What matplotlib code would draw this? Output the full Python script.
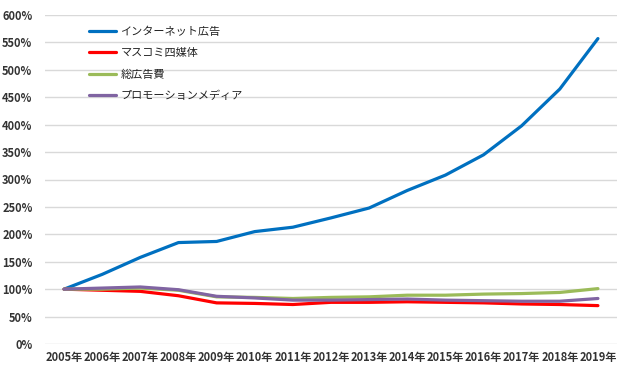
import matplotlib
matplotlib.use("Agg")
import matplotlib.pyplot as plt
from matplotlib.ticker import FuncFormatter

plt.rcParams['font.family'] = ['Noto Sans CJK JP', 'DejaVu Sans']

years = [f"{y}年" for y in range(2005, 2020)]
internet = [100, 127, 158, 185, 187, 205, 213, 230, 248, 280, 308, 345, 398, 465, 557]
mass4 = [100, 98, 96, 88, 75, 74, 72, 76, 76, 77, 76, 75, 73, 72, 70]
total = [100, 100, 102, 98, 86, 85, 83, 85, 86, 89, 89, 91, 92, 94, 101]
promo = [100, 102, 104, 99, 87, 84, 80, 80, 81, 82, 80, 79, 78, 78, 83]

series = [
    ("インターネット広告", internet, "#0070C0"),
    ("マスコミ四媒体", mass4, "#FF0000"),
    ("総広告費", total, "#9BBB59"),
    ("プロモーションメディア", promo, "#8064A2"),
]

fig = plt.figure(figsize=(6.17, 3.65), dpi=100)
ax = fig.add_axes([45 / 617, 1 - 344 / 365, 572 / 617, 329 / 365])

x = list(range(len(years)))
for name, vals, col in series:
    ax.plot(x, vals, color=col, lw=2.3, label=name, solid_capstyle='round')

ax.set_xlim(-0.5, len(years) - 0.5)
ax.set_ylim(0, 600)
ax.set_yticks(range(0, 601, 50))
ax.yaxis.set_major_formatter(FuncFormatter(lambda v, p: f"{int(v)}%"))
ax.set_xticks(x)
ax.set_xticklabels(years)
ax.grid(axis='y', color='#D9D9D9', lw=1)
ax.set_axisbelow(True)
for s in ax.spines.values():
    s.set_visible(False)
ax.tick_params(length=0, labelsize=8, colors='#333333')
ax.tick_params(axis='y', pad=9)
ax.tick_params(axis='x', pad=5)
for lab in ax.get_xticklabels() + ax.get_yticklabels():
    lab.set_fontweight('bold')

leg = ax.legend(loc='upper left', bbox_to_anchor=(0.06, 0.995), frameon=False,
                fontsize=8, handlelength=2.4, labelspacing=1.0, handletextpad=0.4)
for t in leg.get_texts():
    t.set_color('#222222')

fig.savefig("out.png", dpi=100)
